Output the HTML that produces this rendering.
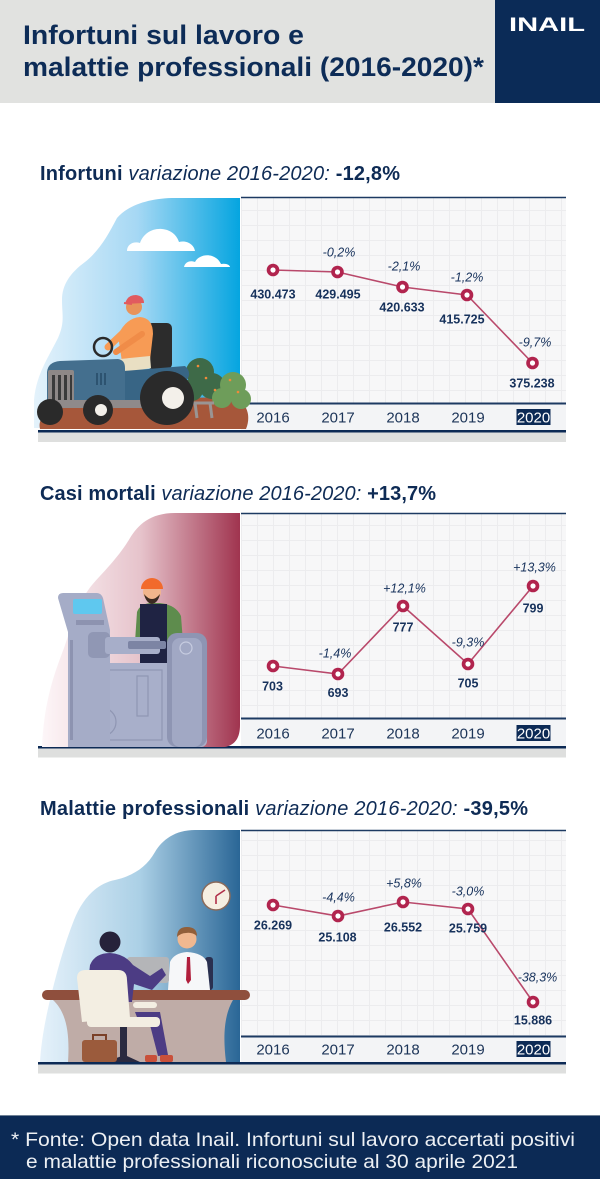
<!DOCTYPE html>
<html><head><meta charset="utf-8"><style>html,body{margin:0;padding:0;background:#fff}svg{display:block}</style></head>
<body>
<svg xmlns="http://www.w3.org/2000/svg" width="600" height="1179" viewBox="0 0 600 1179" font-family="'Liberation Sans', Arial, sans-serif">
<defs>
<linearGradient id="g1" x1="0" x2="1" y1="0" y2="0"><stop offset="0" stop-color="#e4f2fb"/><stop offset="0.5" stop-color="#a6d8f4"/><stop offset="1" stop-color="#05a5e0"/></linearGradient>
<linearGradient id="g2" x1="0" x2="1" y1="0" y2="0"><stop offset="0" stop-color="#fdf6f8"/><stop offset="0.5" stop-color="#e6c3cb"/><stop offset="1" stop-color="#a0344f"/></linearGradient>
<linearGradient id="g3" x1="0" x2="1" y1="0" y2="0"><stop offset="0" stop-color="#e5f1fa"/><stop offset="0.5" stop-color="#abd0e6"/><stop offset="1" stop-color="#2a6696"/></linearGradient>
<pattern id="grid" width="16" height="15" patternUnits="userSpaceOnUse" x="241" y="0"><rect width="16" height="15" fill="#f7f7f8"/><path d="M0.5,0 V15 M0,0.5 H16" stroke="#ececee" stroke-width="1"/></pattern>
</defs>

<!-- Header -->
<rect x="0" y="0" width="600" height="103" fill="#e1e2e0"/>
<rect x="495" y="0" width="105" height="103" fill="#0b2b57"/>
<text x="23" y="44" font-size="27" font-weight="bold" fill="#0d2c57" textLength="281" lengthAdjust="spacingAndGlyphs">Infortuni sul lavoro e</text>
<text x="23" y="76" font-size="27" font-weight="bold" fill="#0d2c57" textLength="461" lengthAdjust="spacingAndGlyphs">malattie professionali (2016-2020)*</text>
<text x="509" y="31" font-size="19" font-weight="900" fill="#ffffff" textLength="76" lengthAdjust="spacingAndGlyphs">INAIL</text>

<!-- Section titles -->
<text x="40" y="180" font-size="20" fill="#0e2b55" textLength="360"><tspan font-weight="bold">Infortuni</tspan><tspan font-style="italic"> variazione 2016-2020: </tspan><tspan font-weight="bold">-12,8%</tspan></text>
<text x="40" y="500" font-size="20" fill="#0e2b55" textLength="396"><tspan font-weight="bold">Casi mortali</tspan><tspan font-style="italic"> variazione 2016-2020: </tspan><tspan font-weight="bold">+13,7%</tspan></text>
<text x="40" y="815" font-size="20" fill="#0e2b55" textLength="488"><tspan font-weight="bold">Malattie professionali</tspan><tspan font-style="italic"> variazione 2016-2020: </tspan><tspan font-weight="bold">-39,5%</tspan></text>

<!-- Panel 1 -->
<rect x="241" y="197" width="325" height="206" fill="url(#grid)"/>
<line x1="241" y1="197.5" x2="566" y2="197.5" stroke="#1d3a62" stroke-width="1.5"/>
<rect x="241" y="404" width="325" height="27" fill="#f3f4f6"/>
<line x1="241" y1="403.5" x2="566" y2="403.5" stroke="#1d3a62" stroke-width="2"/>
<rect x="38" y="430" width="528" height="2.5" fill="#0c2a55"/>
<rect x="38" y="432.5" width="528" height="9.5" fill="#dedfde"/>

<!-- Panel 2 -->
<rect x="241" y="513" width="325" height="205" fill="url(#grid)"/>
<line x1="241" y1="513.5" x2="566" y2="513.5" stroke="#1d3a62" stroke-width="1.5"/>
<rect x="241" y="719" width="325" height="27" fill="#f3f4f6"/>
<line x1="241" y1="718.5" x2="566" y2="718.5" stroke="#1d3a62" stroke-width="2"/>
<rect x="38" y="746" width="528" height="2.5" fill="#0c2a55"/>
<rect x="38" y="748.5" width="528" height="9" fill="#dedfde"/>

<!-- Panel 3 -->
<rect x="241" y="830" width="325" height="206" fill="url(#grid)"/>
<line x1="241" y1="830.5" x2="566" y2="830.5" stroke="#1d3a62" stroke-width="1.5"/>
<rect x="241" y="1037" width="325" height="25" fill="#f3f4f6"/>
<line x1="241" y1="1036.5" x2="566" y2="1036.5" stroke="#1d3a62" stroke-width="2"/>
<rect x="38" y="1062" width="528" height="2.5" fill="#0c2a55"/>
<rect x="38" y="1064.5" width="528" height="9" fill="#dedfde"/>

<!-- Illustration 1: tractor -->
<path d="M240,198 L175,198 C150,198 128,205 117,218 C108,235 100,250 85,262 C70,273 62,285 62,300 C62,315 65,322 58,338 C48,358 36,375 34,400 L34,428 L240,428 Z" fill="url(#g1)"/>
<g fill="#ffffff">
<path d="M127,251 C127,244 134,241 140,243 C143,234 152,228 162,229 C172,230 177,236 179,242 C186,240 194,244 195,251 Z"/>
<path d="M184,267 C185,262 190,260 195,262 C198,256 206,254 212,256 C218,258 220,262 221,264 C226,263 230,265 230,267 Z"/>
</g>
<path d="M40,429 C36,412 60,402 100,400 L228,397 C246,399 252,414 246,429 Z" fill="#a6573a"/>
<g fill="#3e6a48"><circle cx="200" cy="372" r="14"/><circle cx="212" cy="386" r="13"/><circle cx="192" cy="390" r="11"/></g>
<g fill="#6e9d5a"><circle cx="233" cy="385" r="13"/><circle cx="241" cy="399" r="10"/><circle cx="222" cy="398" r="10"/></g>
<g fill="#f08a3a"><circle cx="198" cy="366" r="1.3"/><circle cx="206" cy="378" r="1.3"/><circle cx="230" cy="380" r="1.3"/><circle cx="238" cy="392" r="1.3"/><circle cx="215" cy="390" r="1.3"/></g>
<g stroke="#9a9594" stroke-width="3"><line x1="188" y1="403" x2="214" y2="403"/><line x1="195" y1="403" x2="197" y2="418"/><line x1="210" y1="403" x2="212" y2="418"/></g>
<rect x="147" y="323" width="25" height="46" rx="5" fill="#2c2c2c"/>
<path d="M118,335 Q126,318 140,317 Q153,318 153,334 L150,360 L122,362 Z" fill="#f79b55"/>
<path d="M124,332 L108,347" stroke="#f79b55" stroke-width="7" stroke-linecap="round"/>
<path d="M142,334 L116,352" stroke="#f08c48" stroke-width="6" stroke-linecap="round"/>
<circle cx="134" cy="307" r="8" fill="#e8935a"/>
<path d="M125,304 Q127,295 136,295 Q144,296 144,303 Z" fill="#e15b5f"/>
<path d="M124,303 L132,304" stroke="#e15b5f" stroke-width="2"/>
<path d="M110,360 L150,356 L151,368 L128,372 L120,397 L106,394 Z" fill="#e9dfc3"/>
<circle cx="103" cy="347" r="9" fill="none" stroke="#2a2a2a" stroke-width="2.5"/>
<path d="M112,372 L185,366 Q192,372 187,380 L150,386 L140,402 L112,402 Z" fill="#386585"/>
<path d="M47,372 Q48,362 60,361 L118,359 Q125,360 125,368 L125,402 L47,402 Z" fill="#446f8e"/>
<rect x="48" y="370" width="26" height="34" rx="2" fill="#8e8887"/>
<g fill="#3a3a3a"><rect x="52" y="375" width="3" height="25"/><rect x="58" y="375" width="3" height="25"/><rect x="64" y="375" width="3" height="25"/><rect x="70" y="375" width="2" height="25"/></g>
<g fill="#2d5370"><rect x="96" y="373" width="2" height="12"/><rect x="100" y="373" width="2" height="12"/><rect x="104" y="373" width="2" height="12"/></g>
<rect x="55" y="400" width="110" height="8" fill="#8f8a8a"/>
<circle cx="50" cy="412" r="13" fill="#2a2a2a"/>
<circle cx="98" cy="410" r="15" fill="#2a2a2a"/><circle cx="101" cy="410" r="6" fill="#f3f0ea"/>
<circle cx="167" cy="398" r="27" fill="#2a2a2a"/><circle cx="173" cy="398" r="11" fill="#f3f0ea"/>

<!-- Illustration 2: machine -->
<path d="M240,513 L175,513 C150,513 138,525 130,538 C118,558 105,570 92,585 C78,602 72,625 64,648 C55,672 44,700 42,747 L225,747 C235,745 240,738 240,725 Z" fill="url(#g2)"/>
<path d="M135,642 L137,612 Q140,604 150,603 L160,603 Q176,605 181,616 L183,642 Z" fill="#5e8c4d"/>
<rect x="140" y="604" width="27" height="60" fill="#1f2343"/>
<circle cx="152" cy="592" r="9" fill="#f1b58c"/>
<path d="M144,594 Q146,603 152,604 Q158,603 160,594 Q156,599 152,599 Q148,599 144,594 Z" fill="#3b2a22"/>
<path d="M141,589 A11,11 0 0 1 163,589 Z" fill="#f26a2b"/>
<rect x="83" y="663" width="124" height="84" rx="6" fill="#a8afca"/>
<rect x="90" y="670" width="72" height="70" fill="none" stroke="#8f96b3" stroke-width="1.2"/>
<circle cx="102" cy="722" r="14" fill="none" stroke="#8f96b3" stroke-width="1.2"/>
<rect x="137" y="676" width="11" height="40" fill="none" stroke="#8f96b3" stroke-width="1.2"/>
<path d="M58,598 Q58,593 63,593 L97,593 Q101,593 103,598 L110,630 L110,747 L68,747 L68,632 Z" fill="#a5acc7"/>
<rect x="73" y="599" width="29" height="15" rx="2" fill="#5fc8ef"/>
<rect x="76" y="620" width="28" height="5" fill="#8d93b0"/>
<rect x="70" y="640" width="3" height="100" fill="#8d93b0"/>
<rect x="88" y="632" width="22" height="26" rx="5" fill="#9097b4"/>
<rect x="105" y="637" width="55" height="17" rx="3" fill="#a7aec9"/>
<rect x="128" y="641" width="38" height="8" rx="2" fill="#7c84a4"/>
<rect x="167" y="633" width="40" height="114" rx="10" fill="#8e95b3"/>
<rect x="172" y="638" width="30" height="109" rx="8" fill="#a1a8c4"/>
<circle cx="186" cy="648" r="6" fill="none" stroke="#c7cce0" stroke-width="1.2"/>

<!-- Illustration 3: office -->
<path d="M240,830 L195,830 C175,830 162,840 155,852 C146,868 132,876 115,880 C95,884 82,900 74,920 C64,945 56,975 50,1000 C44,1025 41,1045 40,1062 L240,1062 Z" fill="url(#g3)"/>
<circle cx="216" cy="896" r="14" fill="#f6efe2" stroke="#8a6a5a" stroke-width="1.5"/>
<path d="M216,896 L216,904 M216,896 L225,890" stroke="#b0304a" stroke-width="1.6"/>
<rect x="205" y="957" width="8" height="33" rx="3" fill="#2a3050"/>
<path d="M168,990 L170,962 Q174,953 187,952 Q203,953 207,962 L210,990 Z" fill="#f6f7f9"/>
<path d="M187,957 L190,957 L191,980 L188,984 L186,980 Z" fill="#b01e3c"/>
<circle cx="187" cy="939" r="9.5" fill="#f0b890"/>
<path d="M177,937 Q177,927 187,927 Q197,927 197,936 Q192,932 186,933 Q181,933 177,937 Z" fill="#915f3a"/>
<rect x="127" y="957" width="42" height="26" rx="3" fill="#b4b5b8"/>
<rect x="42" y="990" width="208" height="10" rx="5" fill="#8f4f3d"/>
<path d="M53,1000 L233,1000 C226,1012 222,1030 226,1062 L68,1062 C70,1032 66,1012 53,1000 Z" fill="#bfaca7"/>
<path d="M86,1002 L90,965 Q95,953 110,953 Q125,954 133,965 L150,976 L162,968 L166,975 L152,990 L134,984 L132,1002 Z" fill="#4c3c84"/>
<circle cx="110" cy="942" r="10.5" fill="#26223a"/>
<path d="M77,978 Q77,970 86,970 L118,970 Q127,970 127,980 L130,1018 L82,1022 Z" fill="#f3eee2"/>
<path d="M135,1012 L160,1012 L168,1055 L158,1056 L150,1025 L140,1025 Z" fill="#4c3c84"/>
<rect x="87" y="1017" width="73" height="10" rx="4" fill="#f3eee2"/>
<rect x="133" y="1002" width="24" height="6" rx="3" fill="#f3eee2"/>
<rect x="120" y="1027" width="7" height="30" fill="#2a2a40"/>
<path d="M105,1062 L122,1056 L127,1056 L140,1062 Z" fill="#2a2a40"/>
<rect x="145" y="1055" width="12" height="7" rx="2" fill="#c9503a"/>
<rect x="160" y="1055" width="13" height="7" rx="2" fill="#c9503a"/>
<rect x="82" y="1040" width="35" height="22" rx="3" fill="#9b5b3c"/>
<path d="M93,1040 L93,1035 L106,1035 L106,1040" fill="none" stroke="#7a4028" stroke-width="2"/>

<!-- Year labels -->
<g font-size="15" fill="#1c3458" text-anchor="middle">
<text x="273" y="422.5">2016</text><text x="338" y="422.5">2017</text><text x="403" y="422.5">2018</text><text x="468" y="422.5">2019</text>
<text x="273" y="738.5">2016</text><text x="338" y="738.5">2017</text><text x="403" y="738.5">2018</text><text x="468" y="738.5">2019</text>
<text x="273" y="1054.5">2016</text><text x="338" y="1054.5">2017</text><text x="403" y="1054.5">2018</text><text x="468" y="1054.5">2019</text>
</g>
<rect x="516.5" y="409" width="34" height="16" fill="#0c2a55"/>
<rect x="516.5" y="725" width="34" height="16" fill="#0c2a55"/>
<rect x="516.5" y="1041" width="34" height="16" fill="#0c2a55"/>
<g font-size="15" fill="#ffffff" text-anchor="middle">
<text x="533.5" y="422.5">2020</text><text x="533.5" y="738.5">2020</text><text x="533.5" y="1054.5">2020</text>
</g>

<!-- Series -->
<g fill="none" stroke="#b9496b" stroke-width="1.6">
<polyline points="273,270 337.5,272 402.5,287 467,295 532.5,363"/>
<polyline points="273,666 338,674 403,606 468,664 533,586"/>
<polyline points="273,905 338,916 403,902 468,909 533,1002"/>
</g>
<g fill="#b1244e">
<circle cx="273" cy="270" r="6.3"/><circle cx="337.5" cy="272" r="6.3"/><circle cx="402.5" cy="287" r="6.3"/><circle cx="467" cy="295" r="6.3"/><circle cx="532.5" cy="363" r="6.3"/>
<circle cx="273" cy="666" r="6.3"/><circle cx="338" cy="674" r="6.3"/><circle cx="403" cy="606" r="6.3"/><circle cx="468" cy="664" r="6.3"/><circle cx="533" cy="586" r="6.3"/>
<circle cx="273" cy="905" r="6.3"/><circle cx="338" cy="916" r="6.3"/><circle cx="403" cy="902" r="6.3"/><circle cx="468" cy="909" r="6.3"/><circle cx="533" cy="1002" r="6.3"/>
</g>
<g fill="#ffffff">
<circle cx="273" cy="270" r="2.6"/><circle cx="337.5" cy="272" r="2.6"/><circle cx="402.5" cy="287" r="2.6"/><circle cx="467" cy="295" r="2.6"/><circle cx="532.5" cy="363" r="2.6"/>
<circle cx="273" cy="666" r="2.6"/><circle cx="338" cy="674" r="2.6"/><circle cx="403" cy="606" r="2.6"/><circle cx="468" cy="664" r="2.6"/><circle cx="533" cy="586" r="2.6"/>
<circle cx="273" cy="905" r="2.6"/><circle cx="338" cy="916" r="2.6"/><circle cx="403" cy="902" r="2.6"/><circle cx="468" cy="909" r="2.6"/><circle cx="533" cy="1002" r="2.6"/>
</g>

<!-- Value labels -->
<g font-size="12.5" font-weight="bold" fill="#17325c" text-anchor="middle">
<text x="273" y="298.5">430.473</text><text x="338" y="298.5">429.495</text><text x="402" y="311.5">420.633</text><text x="462" y="323.5">415.725</text><text x="532" y="387.5">375.238</text>
<text x="272.5" y="690.5">703</text><text x="338" y="697">693</text><text x="403" y="631.5">777</text><text x="468" y="687.5">705</text><text x="533" y="612.5">799</text>
<text x="273" y="929.5">26.269</text><text x="337.5" y="941.5">25.108</text><text x="403" y="931.5">26.552</text><text x="468" y="932.5">25.759</text><text x="533" y="1024.5">15.886</text>
</g>
<g font-size="12.5" font-style="italic" fill="#17325c" text-anchor="middle">
<text x="339" y="256.5">-0,2%</text><text x="404" y="270.5">-2,1%</text><text x="467" y="281.5">-1,2%</text><text x="535" y="346.5">-9,7%</text>
<text x="335" y="657.5">-1,4%</text><text x="404.5" y="592.5">+12,1%</text><text x="468" y="646.5">-9,3%</text><text x="534.5" y="571.5">+13,3%</text>
<text x="338.5" y="901.5">-4,4%</text><text x="404" y="887.5">+5,8%</text><text x="468" y="895.5">-3,0%</text><text x="537.5" y="981.5">-38,3%</text>
</g>

<!-- Footer -->
<rect x="0" y="1116" width="600" height="63" fill="#0c2a55"/>
<rect x="0" y="1115" width="600" height="1" fill="#6f8196"/>
<text x="11" y="1146" font-size="19.5" fill="#edf0f4" textLength="564" lengthAdjust="spacingAndGlyphs">* Fonte: Open data Inail. Infortuni sul lavoro accertati positivi</text>
<text x="26" y="1168" font-size="19.5" fill="#edf0f4" textLength="492" lengthAdjust="spacingAndGlyphs">e malattie professionali riconosciute al 30 aprile 2021</text>
</svg>
</body></html>
